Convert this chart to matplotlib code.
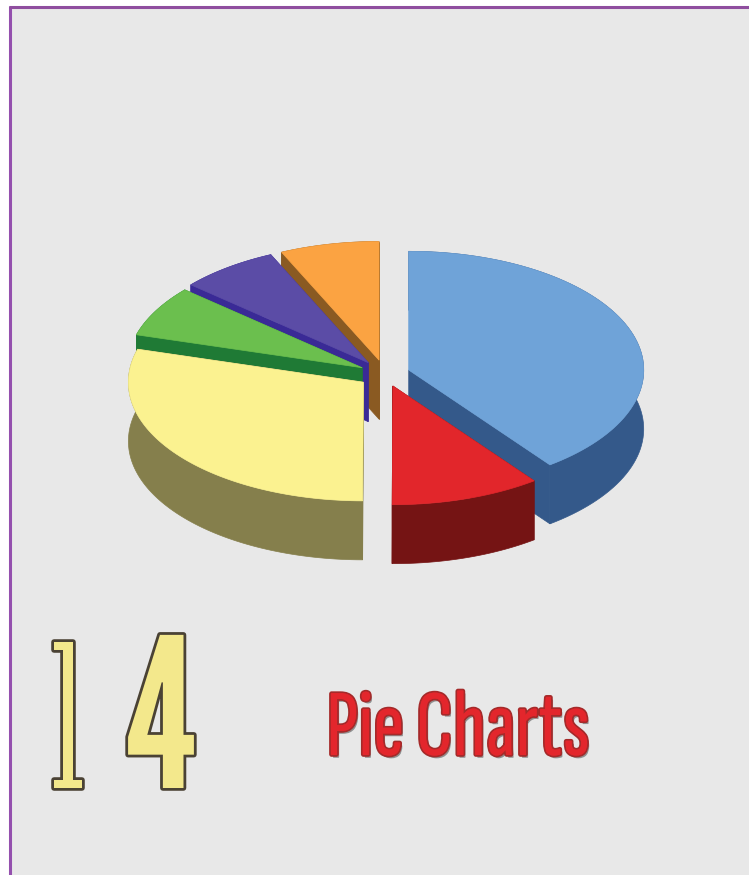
# plot.py - exploded 3D-looking pie chart cover with chapter number

import matplotlib

matplotlib.use("Agg")
import matplotlib.patheffects as pe
import matplotlib.pyplot as plt
import numpy as np

# slice shares in percent, clockwise from 12 o'clock
slices = ["blue", "red", "yellow", "green", "purple", "orange"]
shares = [39.7, 10.3, 29.4, 6.9, 6.8, 6.8]
chapter_digits = ["1", "4"]
title = "Pie Charts"

TOP_COLORS = ["#6FA3D8", "#E2262B", "#FBF290", "#6BBF4E", "#5B4CA6", "#FBA342"]
WALL_COLORS = ["#34598A", "#751414", "#857F4C", "#1F7A35", "#3A2A96", "#8A5A22"]
EXPLODE = [25, 25, 27, 26, 28, 28]
DRAW_ORDER = [5, 4, 3, 2, 0, 1]  # back to front
CENTER = (385, 374)
RADIUS = 235
SQUASH = 0.505
DEPTH = 59


def project(angle, radius, apex):
    """Clockwise-from-top angle (radians) to squashed picture coordinates."""
    return (
        apex[0] + radius * np.sin(angle),
        apex[1] - radius * SQUASH * np.cos(angle),
    )


def draw_slice(ax, start, end, explode, top_color, wall_color):
    mid = (start + end) / 2
    apex = project(mid, explode, CENTER)
    arc_x, arc_y = project(np.linspace(start, end, 80), RADIUS, apex)

    # cut faces first, then the outer wall, the top goes over everything
    for a in (start, end):
        ex, ey = project(a, RADIUS, apex)
        ax.fill(
            [apex[0], ex, ex, apex[0]],
            [apex[1], ey, ey + DEPTH, apex[1] + DEPTH],
            color=wall_color,
            lw=0.5,
        )
    ax.fill(
        np.r_[arc_x, arc_x[::-1]],
        np.r_[arc_y, arc_y[::-1] + DEPTH],
        color=wall_color,
        lw=0.5,
    )
    ax.fill(np.r_[apex[0], arc_x], np.r_[apex[1], arc_y], color=top_color, lw=0.5)


fig = plt.figure(figsize=(7.49, 8.75), dpi=100, facecolor="white")
ax = fig.add_axes([0, 0, 1, 1])
ax.set_xlim(0, 749)
ax.set_ylim(875, 0)
ax.axis("off")

# page background and the purple frame on top and left
ax.fill([9, 749, 749, 9], [6, 6, 875, 875], color="#E8E8E8", lw=0)
ax.plot([9.5, 9.5], [6, 875], color="#9450AE", lw=2.2, solid_capstyle="butt")
ax.plot([9, 749], [6.5, 6.5], color="#8F4E9F", lw=2.2, solid_capstyle="butt")

edges = np.r_[0, np.cumsum(shares)] / sum(shares) * 2 * np.pi
for i in DRAW_ORDER:
    draw_slice(ax, edges[i], edges[i + 1], EXPLODE[i], TOP_COLORS[i], WALL_COLORS[i])

# chapter number, one text per digit
digit_style = dict(
    color="#F3E88C",
    va="baseline",
    ha="center",
    path_effects=[
        pe.withStroke(linewidth=4, foreground="#4A4234"),
    ],
)
ax.text(68, 788, chapter_digits[0], family="Six Caps", fontsize=125, **digit_style)
ax.text(161, 788, chapter_digits[1], family="League Gothic", fontsize=150, **digit_style)

ax.text(
    326,
    755,
    title,
    family="Sofia Sans Extra Condensed",
    fontweight="bold",
    fontsize=68,
    color="#E3262C",
    va="baseline",
    ha="left",
    path_effects=[
        pe.withSimplePatchShadow(offset=(1.5, -2), shadow_rgbFace="#555555", alpha=0.6),
        pe.withStroke(linewidth=2.6, foreground="#A52A2A"),
        pe.Normal(),
    ],
)

fig.savefig("out.png", dpi=100)
plt.close(fig)
